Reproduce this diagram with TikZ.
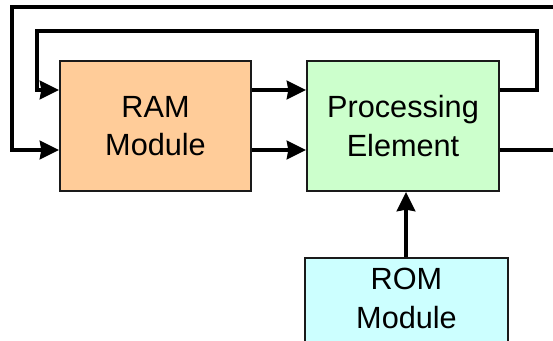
\documentclass[tikz,border=0pt]{standalone}
\usepackage{fontspec}
\setmainfont{Liberation Sans}
\usetikzlibrary{arrows.meta}
\definecolor{ramfill}{HTML}{FFCC99}
\definecolor{pefill}{HTML}{CCFFCC}
\definecolor{romfill}{HTML}{CCFFFF}
\definecolor{edge}{HTML}{1A1A1A}
\begin{document}
\begin{tikzpicture}[x=0.75pt,y=-0.75pt,
  block/.style={draw=edge,line width=1.4pt,inner sep=0pt,align=center,
    font=\fontsize{23}{29}\selectfont},
  wire/.style={line width=2.3pt,line join=miter},
  arr/.style={wire,-{Stealth[length=14.5pt,width=14pt,inset=1.2pt]}}]
\useasboundingbox (0,0) rectangle (553,341);
\clip (0,0) rectangle (553,341);

% blocks
\node[block,fill=ramfill,minimum width=143.25pt,minimum height=97.5pt] (ram) at (155.5,126) {RAM\\Module};
\node[block,fill=pefill,minimum width=144pt,minimum height=97.5pt] (pe) at (403,126) {Processing\\Element};
% the ROM block runs on below the lower edge
\node[block,fill=romfill,minimum width=152.25pt,anchor=north,inner ysep=7.5pt,
  text depth=40pt] (rom) at (406.5,257) {ROM\\Module};

% rows of the two data paths
\coordinate (rowa) at (0,90);
\coordinate (rowb) at (0,150);
% corners of the feedback loops
\coordinate (ia) at (537,90);
\coordinate (ib) at (537,31);
\coordinate (ic) at (37,31);
\coordinate (oa) at (575,150);
\coordinate (ob) at (575,7);
\coordinate (oc) at (12,7);

% RAM to processing element
\draw[arr] (ram.east |- rowa) -- (pe.west |- rowa);
\draw[arr] (ram.east |- rowb) -- (pe.west |- rowb);

% ROM into processing element
\draw[arr] (rom.north -| 406,0) -- (pe.south -| 406,0);

% inner feedback loop
\draw[arr] (pe.east |- rowa) -- (ia) -- (ib) -- (ic) -- (ic |- rowa) -- (ram.west |- rowa);

% outer feedback loop
\draw[arr] (pe.east |- rowb) -- (oa) -- (ob) -- (oc) -- (oc |- rowb) -- (ram.west |- rowb);
\end{tikzpicture}
\end{document}
